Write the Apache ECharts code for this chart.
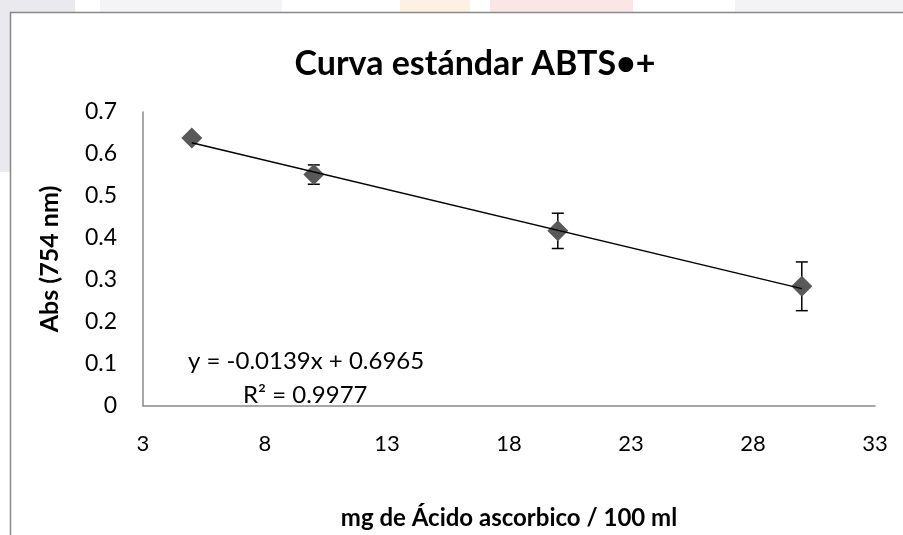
<!DOCTYPE html>
<html>
<head>
<meta charset="utf-8">
<script src="https://cdn.jsdelivr.net/npm/echarts@6/dist/echarts.min.js"></script>
<style>
  html, body { margin: 0; padding: 0; background: #fff; }
  #chart { width: 903px; height: 535px; }
</style>
</head>
<body>
<div id="chart"></div>
<script>
// datos
const concentraciones = [5, 10, 20, 30];
const absorbancias = [0.638, 0.551, 0.417, 0.285];
const desviaciones = [0.004, 0.023, 0.042, 0.058];
const xTicks = [3, 8, 13, 18, 23, 28, 33];
const yTicks = [0, 0.1, 0.2, 0.3, 0.4, 0.5, 0.6, 0.7];
// línea de tendencia
const pendiente = -0.0139;
const intercepto = 0.6965;
const r2 = 0.9977;
const tendenciaX = [5, 30];

const FONT = 'Lato';

const myChart = echarts.init(document.getElementById('chart'));

const errData = concentraciones.map((x, i) => [x, absorbancias[i], desviaciones[i]]);
const trendData = tendenciaX.map((x) => [x, pendiente * x + intercepto]);

const options = {
  animation: false,
  backgroundColor: '#fff',
  title: {
    text: 'Curva estándar ABTS•+',
    left: 470,
    top: 42,
    textAlign: 'center',
    textStyle: { fontFamily: FONT, fontSize: 34, fontWeight: 'bold', color: '#000' },
  },
  grid: { left: 143, right: 28, top: 112, bottom: 118, containLabel: false },
  xAxis: {
    type: 'value',
    min: 3,
    max: 33,
    name: 'mg de Ácido ascorbico / 100 ml',
    nameLocation: 'middle',
    nameGap: 100,
    nameTextStyle: { fontFamily: FONT, fontSize: 24, fontWeight: 'bold', color: '#000' },
    axisLine: { show: true, lineStyle: { color: '#898989', width: 1.5 } },
    axisTick: { show: false },
    splitLine: { show: false },
    axisLabel: {
      customValues: xTicks,
      margin: 27,
      fontFamily: FONT,
      fontSize: 22,
      color: '#000',
    },
  },
  yAxis: {
    type: 'value',
    min: 0,
    max: 0.7,
    name: 'Abs (754 nm)',
    nameLocation: 'middle',
    nameGap: 81,
    nameRotate: 90,
    nameTextStyle: { fontFamily: FONT, fontSize: 25, fontWeight: 'bold', color: '#000' },
    axisLine: { show: true, lineStyle: { color: '#898989', width: 1.5 } },
    axisTick: { show: false },
    splitLine: { show: false },
    axisLabel: {
      customValues: yTicks,
      margin: 26,
      fontFamily: FONT,
      fontSize: 23,
      color: '#000',
      formatter: (v) => String(Math.round(v * 10) / 10),
    },
  },
  graphic: [
    // marca de agua tenue del fondo
    { type: 'rect', z: -10, shape: { x: 0, y: 0, width: 75, height: 12 }, style: { fill: '#e9e9ee' } },
    { type: 'rect', z: -10, shape: { x: 0, y: 12, width: 10, height: 160 }, style: { fill: '#e9e9ee' } },
    { type: 'rect', z: -10, shape: { x: 100, y: 0, width: 182, height: 12 }, style: { fill: '#f4f4f7' } },
    { type: 'rect', z: -10, shape: { x: 400, y: 0, width: 70, height: 12 }, style: { fill: '#fdf1e4' } },
    { type: 'rect', z: -10, shape: { x: 490, y: 0, width: 143, height: 12 }, style: { fill: '#fbe6e6' } },
    { type: 'rect', z: -10, shape: { x: 735, y: 0, width: 168, height: 12 }, style: { fill: '#f3f3f6' } },
    // marco del gráfico
    {
      type: 'polyline',
      shape: { points: [[10.5, 535], [10.5, 12.5], [903, 12.5]] },
      style: { stroke: '#898989', lineWidth: 1.5, fill: null },
    },
    // ecuación de la tendencia
    {
      type: 'text',
      left: 188,
      top: 349,
      style: {
        text: 'y = ' + pendiente + 'x + ' + intercepto,
        fontFamily: FONT, fontSize: 24, fill: '#000',
      },
    },
    {
      type: 'text',
      left: 243,
      top: 383,
      style: {
        text: 'R² = ' + r2,
        fontFamily: FONT, fontSize: 24, fill: '#000',
      },
    },
  ],
  series: [
    {
      // barras de error
      type: 'custom',
      z: 2,
      data: errData,
      renderItem: (params, api) => {
        const x = api.value(0);
        const y = api.value(1);
        const e = api.value(2);
        const top = api.coord([x, y + e]);
        const bot = api.coord([x, y - e]);
        const cap = 6;
        const style = { stroke: '#000', lineWidth: 1.5 };
        return {
          type: 'group',
          children: [
            { type: 'line', shape: { x1: top[0], y1: top[1], x2: bot[0], y2: bot[1] }, style },
            { type: 'line', shape: { x1: top[0] - cap, y1: top[1], x2: top[0] + cap, y2: top[1] }, style },
            { type: 'line', shape: { x1: bot[0] - cap, y1: bot[1], x2: bot[0] + cap, y2: bot[1] }, style },
          ],
        };
      },
    },
    {
      type: 'scatter',
      z: 3,
      symbol: 'diamond',
      symbolSize: [21, 21],
      itemStyle: { color: '#595959', opacity: 1 },
      data: concentraciones.map((x, i) => [x, absorbancias[i]]),
    },
    {
      // línea de tendencia lineal
      type: 'line',
      z: 4,
      showSymbol: false,
      symbol: 'none',
      lineStyle: { color: '#000', width: 1.5 },
      data: trendData,
    },
  ],
};
myChart.setOption(options);
</script>
</body>
</html>
